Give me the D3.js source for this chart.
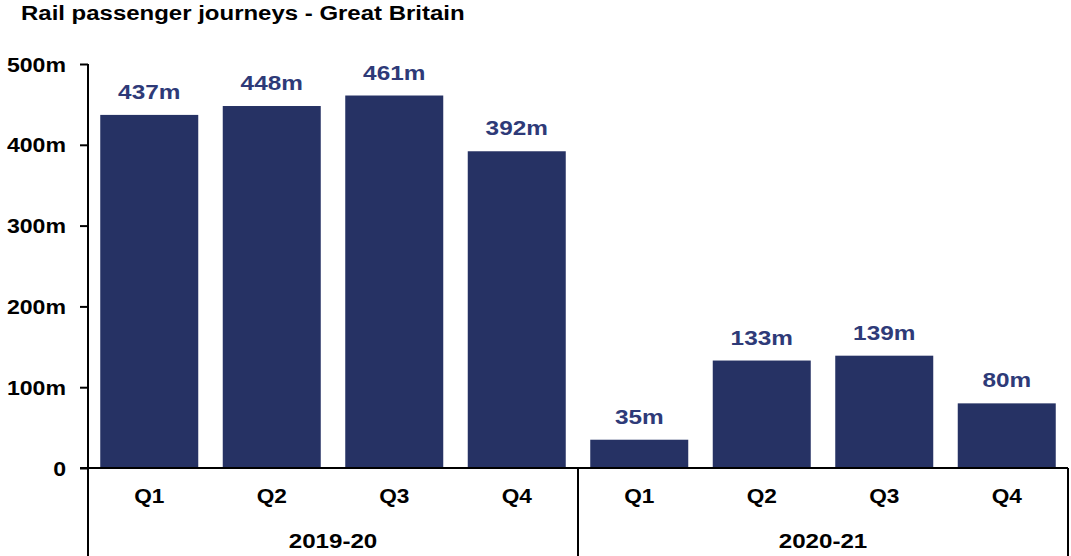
<!DOCTYPE html>
<html>
<head>
<meta charset="utf-8">
<script src="https://cdn.jsdelivr.net/npm/d3@7"></script>
<style>
  html, body { margin: 0; padding: 0; background: #fff; }
  svg { display: block; font-family: "Liberation Sans", Arial, sans-serif; font-weight: bold; }
</style>
</head>
<body>
<svg id="chart" width="1071" height="556"></svg>
<script>
// Quarterly rail passenger journeys (millions)
const years = ["2019-20", "2020-21"];
const quarters = ["Q1", "Q2", "Q3", "Q4"];
const journeys2019 = [437, 448, 461, 392];
const journeys2020 = [35, 133, 139, 80];
const yTicks = [0, 100, 200, 300, 400, 500];

const rows = [];
[journeys2019, journeys2020].forEach((vals, yi) => {
  vals.forEach((v, qi) => rows.push({ year: years[yi], quarter: quarters[qi], key: years[yi] + "-" + quarters[qi], value: v }));
});

const svg = d3.select("#chart");
const plotLeft = 88, plotRight = 1068, plotTop = 64, plotBottom = 468;

const x = d3.scaleBand()
  .domain(rows.map(d => d.key))
  .range([plotLeft, plotRight])
  .paddingInner(0.2)
  .paddingOuter(0.1);

const y = d3.scaleLinear().domain([0, 500]).range([plotBottom, plotTop]);

// Wide bold lettering: each label is drawn at its anchor and stretched horizontally
function wideText(sel, opts) {
  const g = sel.append("g")
    .attr("transform", (d, i) => `translate(${opts.x(d, i)},${opts.y(d, i)}) scale(${opts.sx},1)`);
  g.append("text")
    .attr("text-anchor", opts.anchor || "middle")
    .attr("font-size", opts.size)
    .attr("fill", opts.fill || "#000")
    .text(opts.text);
  return g;
}

// Title
wideText(svg.append("g").datum("Rail passenger journeys - Great Britain"), {
  x: () => 21, y: () => 20, sx: 1.23, size: 19.5, anchor: "start", text: d => d
});

// Bars
svg.append("g").selectAll("rect")
  .data(rows)
  .join("rect")
  .attr("x", d => x(d.key))
  .attr("y", d => y(d.value))
  .attr("width", x.bandwidth())
  .attr("height", d => y(0) - y(d.value))
  .attr("fill", "#263264");

// Value labels
wideText(svg.append("g").selectAll("g").data(rows).join("g"), {
  x: d => x(d.key) + x.bandwidth() / 2,
  y: d => y(d.value) - 16,
  sx: 1.16, size: 21, fill: "#2E3A78",
  text: d => d.value + "m"
});

// Y axis ticks
const yAxis = svg.append("g")
  .attr("transform", `translate(${plotLeft},0)`)
  .call(d3.axisLeft(y).tickValues(yTicks).tickSize(8).tickFormat(""));
yAxis.select(".domain").remove();
yAxis.selectAll(".tick line").attr("stroke", "#000").attr("stroke-width", 2);

// Y tick labels
wideText(svg.append("g").selectAll("g").data(yTicks).join("g"), {
  x: () => 66,
  y: d => y(d) + 7.5,
  sx: 1.1, size: 21, anchor: "end",
  text: d => d === 0 ? "0" : d + "m"
});

// Axis lines
const lines = svg.append("g").attr("stroke", "#000").attr("stroke-width", 2);
lines.append("line").attr("x1", plotLeft).attr("x2", plotLeft).attr("y1", plotTop).attr("y2", 556);
lines.append("line").attr("x1", plotLeft - 8).attr("x2", plotRight).attr("y1", plotBottom).attr("y2", plotBottom);

// Group separators
const groupEdges = [
  (x(years[0] + "-Q4") + x.bandwidth() + x(years[1] + "-Q1")) / 2,
  plotRight
];
groupEdges.forEach(gx => {
  lines.append("line").attr("x1", gx).attr("x2", gx).attr("y1", plotBottom).attr("y2", 556);
});

// Quarter labels
wideText(svg.append("g").selectAll("g").data(rows).join("g"), {
  x: d => x(d.key) + x.bandwidth() / 2,
  y: () => 503,
  sx: 1.08, size: 21,
  text: d => d.quarter
});

// Year labels
const bounds = [plotLeft, groupEdges[0], plotRight];
wideText(svg.append("g").selectAll("g").data(years).join("g"), {
  x: (d, i) => (bounds[i] + bounds[i + 1]) / 2,
  y: () => 548,
  sx: 1.15, size: 21,
  text: d => d
});
</script>
</body>
</html>
